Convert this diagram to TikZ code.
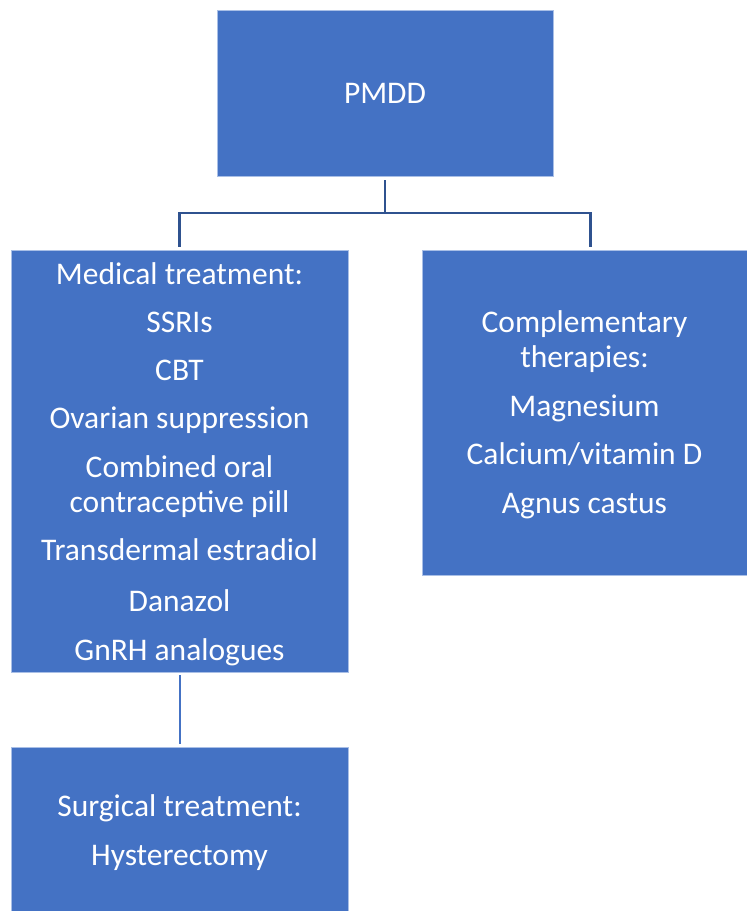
\documentclass[tikz,border=0pt]{standalone}
\usepackage{fontspec}
\setmainfont{Carlito}
\definecolor{boxblue}{HTML}{4472C4}
\definecolor{boxedge}{HTML}{A9BFE6}
\definecolor{linkdark}{HTML}{2F528F}
\begin{document}
\begin{tikzpicture}[x=1pt,y=-1pt,
  box/.style={draw=boxedge, line width=0.8pt, fill=boxblue, inner sep=0pt},
  boxtext/.style={text=white, align=center, font=\fontsize{31.5}{35}\selectfont, inner sep=0pt},
  linkd/.style={draw=linkdark, line width=2.4pt},
  linkl/.style={draw=boxblue, line width=2pt}]
\useasboundingbox (0,0) rectangle (747,911);
\node[box, minimum width=336pt, minimum height=166pt] (pmdd) at (385,93) {};
\node[box, minimum width=337pt, minimum height=422pt] (med) at (179.5,461) {};
\node[box, minimum width=325pt, minimum height=325pt] (comp) at (584.5,412.5) {};
\node[box, minimum width=337pt, minimum height=164pt] (surg) at (179.5,829) {};
\node[boxtext] (pmddt) at (pmdd.center) {PMDD};
\node[boxtext] (medt) at ([yshift=-3pt]med.center)
  {Medical treatment:\\[13.5pt] SSRIs\\[13pt] CBT\\[13pt] Ovarian suppression\\[13.5pt]
   Combined oral\\ contraceptive pill\\[13pt] Transdermal estradiol\\[16pt] Danazol\\[14pt] GnRH analogues};
\node[boxtext] (compt) at ([yshift=-2pt]comp.center)
  {Complementary\\ therapies:\\[14pt] Magnesium\\[13pt] Calcium/vitamin D\\[14pt] Agnus castus};
\node[boxtext] (surgt) at ([yshift=-4pt]surg.center)
  {Surgical treatment:\\[14pt] Hysterectomy};
\coordinate (j) at (385,213);
\draw[linkd] ([yshift=-4pt]pmdd.south) -- (j);
\draw[linkd] (j) -| ([yshift=3pt]med.north);
\draw[linkd] (j) -| ([xshift=6pt,yshift=3pt]comp.north);
\draw[linkl] ([yshift=-3pt]med.south) -- ([yshift=3pt]surg.north);
\end{tikzpicture}
\end{document}
